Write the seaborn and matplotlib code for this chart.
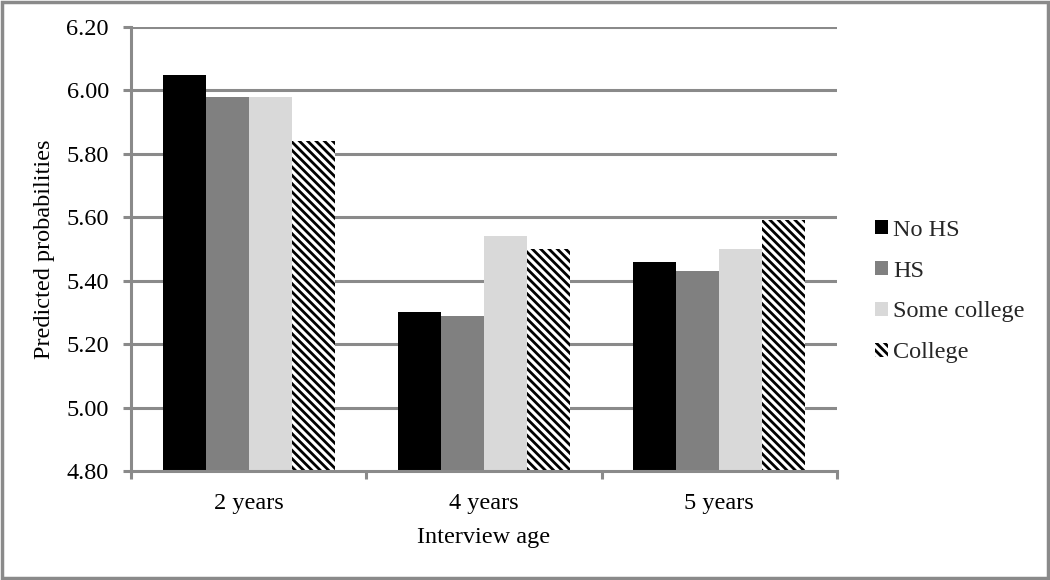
import matplotlib
matplotlib.use("Agg")
import matplotlib.pyplot as plt
import seaborn as sns
import pandas as pd
from matplotlib.patches import Rectangle
from matplotlib.ticker import FixedLocator, FormatStrFormatter

ages = ["2 years", "4 years", "5 years"]
groups = ["No HS", "HS", "Some college", "College"]
no_hs = [6.05, 5.30, 5.46]
hs = [5.98, 5.29, 5.43]
some_college = [5.98, 5.54, 5.50]
college = [5.84, 5.50, 5.59]

colors = ["#000000", "#808080", "#d9d9d9", "#ffffff"]

rows = []
for g, vals in zip(groups, [no_hs, hs, some_college, college]):
    for a, v in zip(ages, vals):
        rows.append({"age": a, "group": g, "value": v})
df = pd.DataFrame(rows)

sns.set_theme(style="white")
plt.rcParams["font.family"] = ["Liberation Serif", "DejaVu Serif"]
plt.rcParams["hatch.linewidth"] = 2.0
plt.rcParams["hatch.color"] = "black"

HATCH = "\\\\\\\\"

fig = plt.figure(figsize=(10.5, 5.8), dpi=100)
ax = fig.add_axes([131 / 1050, 1 - 471 / 580, (837 - 131) / 1050, (471 - 27) / 580])

sns.barplot(data=df, x="age", y="value", hue="group", order=ages, hue_order=groups,
            palette=colors, width=0.73, gap=0, ax=ax, legend=False,
            linewidth=0, edgecolor="none")

# hatch the College bars
n = len(ages)
for i, bar in enumerate(ax.patches):
    gi = i // n
    if gi == 3:
        bar.set_facecolor("white")
        bar.set_edgecolor("black")
        bar.set_linewidth(0)
        bar.set_hatch(HATCH)

ax.set_ylim(4.8, 6.2)
ax.set_xlim(-0.5, 2.5)
yt = [4.8, 5.0, 5.2, 5.4, 5.6, 5.8, 6.0, 6.2]
ax.yaxis.set_major_locator(FixedLocator(yt))
ax.yaxis.set_major_formatter(FormatStrFormatter("%.2f"))
gc = "#8a8a8a"
for y in yt[1:]:
    ax.axhline(y, color=gc, linewidth=2.2, zorder=0)

for s in ["top", "right"]:
    ax.spines[s].set_visible(False)
for s in ["left", "bottom"]:
    ax.spines[s].set_color(gc)
    ax.spines[s].set_linewidth(2.2)

fs = 17.5
ax.tick_params(axis="y", which="major", direction="out", length=6, width=2.2,
               color=gc, labelsize=fs, labelcolor="black", pad=10, left=True)
ax.set_xticks([0, 1, 2])
ax.set_xticklabels(ages)
ax.set_xticks([-0.5, 0.5, 1.5, 2.5], minor=True)
ax.tick_params(axis="x", which="major", length=0, labelsize=fs, labelcolor="black", pad=15.5)
ax.tick_params(axis="x", which="minor", direction="out", length=6, width=2.2,
               color=gc, bottom=True)

ax.set_xlabel("Interview age", fontsize=fs, color="black", labelpad=10)
ax.set_ylabel("Predicted probabilities", fontsize=fs, color="black", labelpad=8)

handles = []
for g, c in zip(groups, colors):
    if g == "College":
        handles.append(Rectangle((0, 0), 1, 1, facecolor="white", edgecolor="black",
                                 linewidth=0, hatch=HATCH, label=g))
    else:
        handles.append(Rectangle((0, 0), 1, 1, facecolor=c, edgecolor="none",
                                 linewidth=0, label=g))
fig.legend(handles=handles, loc="center left", bbox_to_anchor=(875 / 1050, 1 - 291.5 / 580),
           frameon=False, fontsize=fs, handlelength=0.54, handleheight=0.54,
           handletextpad=0.2, labelspacing=0.82, borderpad=0, borderaxespad=0)

fig.patches.append(Rectangle((0.0015, 0.003), 0.997, 0.994, transform=fig.transFigure,
                             fill=False, edgecolor="#8a8a8a", linewidth=2.5))

fig.savefig("out.png", dpi=100)
